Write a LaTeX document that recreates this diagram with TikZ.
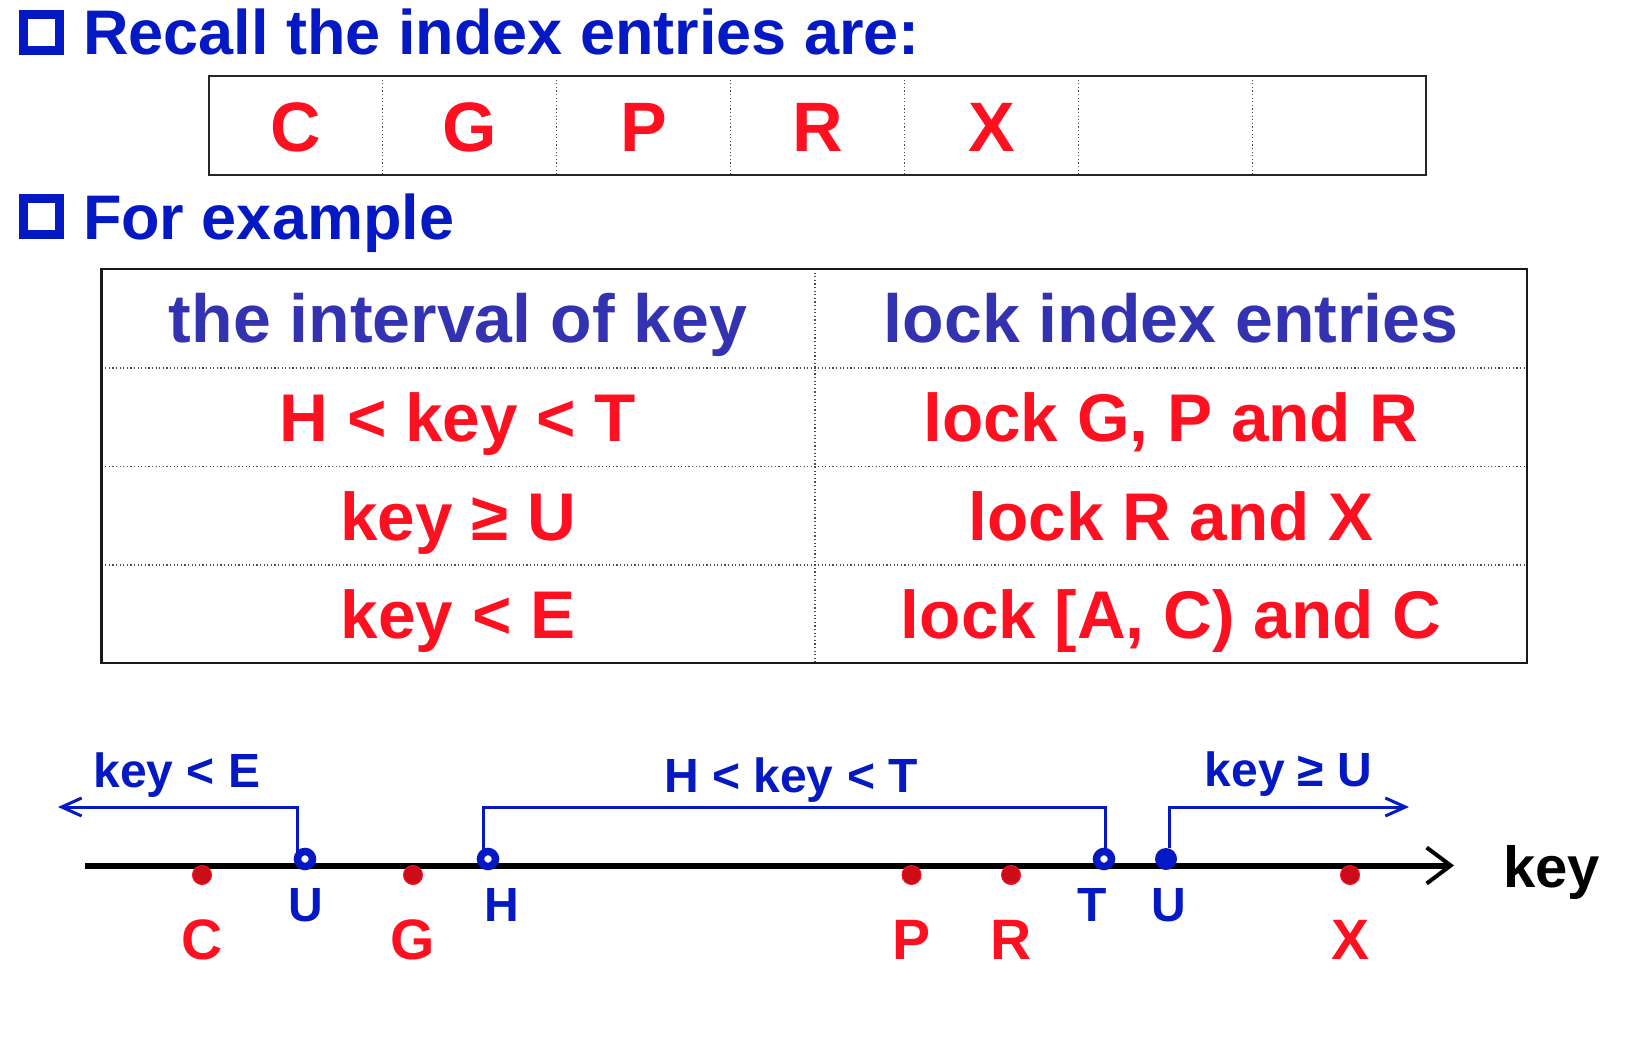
\documentclass[tikz,border=0pt]{standalone}
\usepackage{fontspec}
\setmainfont{Liberation Sans}
\usetikzlibrary{arrows.meta}

\definecolor{titleblue}{RGB}{4,24,196}
\definecolor{headblue}{RGB}{51,51,178}
\definecolor{keyred}{RGB}{255,16,32}
\definecolor{dotred}{RGB}{204,12,24}

\newcommand{\fsz}[1]{\fontsize{#1}{#1}\selectfont\bfseries}

\begin{document}
\begin{tikzpicture}[x=1pt,y=-1pt,
    every node/.style={inner sep=0pt,outer sep=0pt},
    bulletbox/.style={draw=titleblue,line width=9pt,minimum size=36pt},
    heading/.style={anchor=base west,text=titleblue,font=\fsz{63}},
    cellkey/.style={anchor=base,text=keyred,font=\fsz{70}},
    headtext/.style={anchor=base,text=headblue,font=\fsz{68}},
    rowtext/.style={anchor=base,text=keyred,font=\fsz{67.5}},
    frame/.style={draw=black!85,line width=2pt},
    tableframe/.style={draw=black!90,line width=2.5pt},
    gridline/.style={black!70,line width=1.2pt,dash pattern=on 1.2pt off 2.4pt},
    axis/.style={line width=6pt,-{Straight Barb[length=24pt,width=36pt,line width=4pt]}},
    bracket/.style={titleblue,line width=3pt},
    barb/.style={-{Straight Barb[length=20pt,width=18pt,line width=3pt]}},
    opendot/.style={circle,draw=titleblue,fill=white,line width=7.5pt,minimum size=15pt},
    fulldot/.style={circle,fill=titleblue,minimum size=22pt},
    entrydot/.style={circle,fill=dotred,draw=keyred,line width=1pt,minimum size=19pt},
    bound/.style={anchor=base,text=titleblue,font=\fsz{48}},
    entry/.style={anchor=base,text=keyred,font=\fsz{57}},
    keylabel/.style={anchor=base west,font=\fsz{58}}
]
\useasboundingbox (0,0) rectangle (1640,1038);

    % Headings
    \node[bulletbox] (box1) at (41.5,32.5) {};
    \node[heading] (recall) at (83,55) {Recall the index entries are:};
    \node[bulletbox] (box2) at (41.5,216.5) {};
    \node[heading] (forex) at (83,239.5) {For example};

    % Index entries
    \foreach \i in {1,...,6}
        \draw[gridline] (209+\i*173.86,76) -- (209+\i*173.86,175);
    \draw[frame] (209,76) rectangle (1426,175);
    \foreach \i/\lab in {0/C, 1/G, 2/P, 3/R, 4/X}
        \node[cellkey] (idx\lab) at (296+\i*173.86,151) {\lab};

    % Table of intervals and locks
    \draw[gridline] (815,269) -- (815,663);
    \foreach \y in {368,466.5,565}
        \draw[gridline] (101.5,\y) -- (1527,\y);
    \draw[tableframe] (101.5,269) rectangle (1527,663);
    \node[headtext] (hdA) at (458,342.5) {the interval of key};
    \node[headtext] (hdB) at (1171,342.5) {lock index entries};
    \foreach \y/\ka/\kb [count=\r] in {441/{H < key < T}/{lock G, P and R},
                                      540/{key ≥ U}/{lock R and X},
                                      638/{key < E}/{lock [A, C) and C}}
    {
        \node[rowtext] (rowA\r) at (458,\y) {\ka};
        \node[rowtext] (rowB\r) at (1171,\y) {\kb};
    }

    % Axis
    \coordinate (axL) at (85,865.5);
    \coordinate (axR) at (1454,865.5);
    \draw[axis] (axL) -- (axR);
    \node[keylabel] (keyl) at (1503,887) {key};

    % Entries on the axis
    \foreach \x/\lab in {202/C, 413/G, 911.5/P, 1011/R, 1350/X}
    {
        \node[entrydot] (dot\lab) at (\x,875) {};
        \node[entry] (lab\lab) at (\x,959) {\lab};
    }

    % Interval bounds
    \coordinate (cE) at (297.5,807);
    \coordinate (endE) at (58,807);
    \coordinate (cH) at (483,807);
    \coordinate (cT) at (1105,807);
    \coordinate (cU) at (1169,807);
    \coordinate (endU) at (1409,807);
    \node[opendot] (ptUa) at (305,859) {};
    \node[opendot] (ptH) at (488,859) {};
    \node[opendot] (ptT) at (1104,859) {};
    \node[fulldot] (ptUb) at (1166,859) {};
    \draw[bracket,barb] (ptUa.north -| cE) -- (cE) -- (endE);
    \draw[bracket] (ptH.north -| cH) -- (cH) -- (cT) -- (ptT.north -| cT);
    \draw[bracket,barb] (ptUb.north -| cU) -- (cU) -- (endU);

    % Bound labels
    \node[bound] (lbE) at (177,787) {key < E};
    \node[bound] (lbHT) at (791,792) {H < key < T};
    \node[bound] (lbU) at (1288.5,786.5) {key ≥ U};
    \foreach \x/\lab/\nm in {306/U/Ua, 502/H/H, 1092/T/T, 1169/U/Ub}
        \node[bound] (bnd\nm) at (\x,921) {\lab};

\end{tikzpicture}
\end{document}
